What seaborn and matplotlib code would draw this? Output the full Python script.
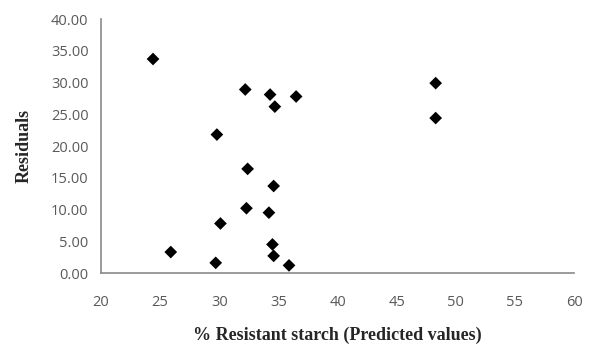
import numpy as np
import pandas as pd
import matplotlib
matplotlib.use("Agg")
import matplotlib.pyplot as plt
import seaborn as sns

# values
predicted = [24.4, 25.9, 29.7, 29.8, 30.1, 32.2, 32.4, 32.3, 34.2, 34.3,
             34.7, 34.6, 34.5, 34.6, 35.9, 36.5, 48.3, 48.3]
residuals = [33.7, 3.3, 1.6, 21.8, 7.8, 28.9, 16.4, 10.2, 9.5, 28.1,
             26.2, 13.7, 4.5, 2.7, 1.2, 27.8, 29.9, 24.4]

x_ticks = [20, 25, 30, 35, 40, 45, 50, 55, 60]
y_ticks = [0, 5, 10, 15, 20, 25, 30, 35, 40]

df = pd.DataFrame({"predicted": predicted, "residuals": residuals})

sns.set_style("white")
plt.rcParams["font.family"] = ["Open Sans", "DejaVu Sans"]

fig = plt.figure(figsize=(5.93, 3.48), dpi=100)
ax = fig.add_axes([0.1703, 0.2155, 0.7977, 0.7299])

sns.scatterplot(data=df, x="predicted", y="residuals", marker="D",
                color="black", s=42, edgecolor="none", ax=ax, legend=False)

ax.set_xlim(20, 60)
ax.set_ylim(0, 40)
ax.set_xticks(x_ticks)
ax.set_yticks(y_ticks)
ax.set_yticklabels([f"{v:.2f}" for v in y_ticks])

for side in ["top", "right"]:
    ax.spines[side].set_visible(False)
for side in ["left", "bottom"]:
    ax.spines[side].set_color("#8a8a8a")
    ax.spines[side].set_linewidth(1.2)

ax.tick_params(axis="both", direction="out", length=5, width=1.2,
               color="#8a8a8a", labelcolor="#595959", labelsize=10.5)
ax.tick_params(axis="x", pad=11)
ax.tick_params(axis="y", pad=4)

serif = ["Liberation Serif", "DejaVu Serif"]
ax.set_xlabel("% Resistant starch (Predicted values)", family=serif,
              fontweight="bold", fontsize=13, labelpad=12)
ax.set_ylabel("Residuals", family=serif, fontweight="bold", fontsize=13,
              labelpad=13)

fig.savefig("out.png", dpi=100)
